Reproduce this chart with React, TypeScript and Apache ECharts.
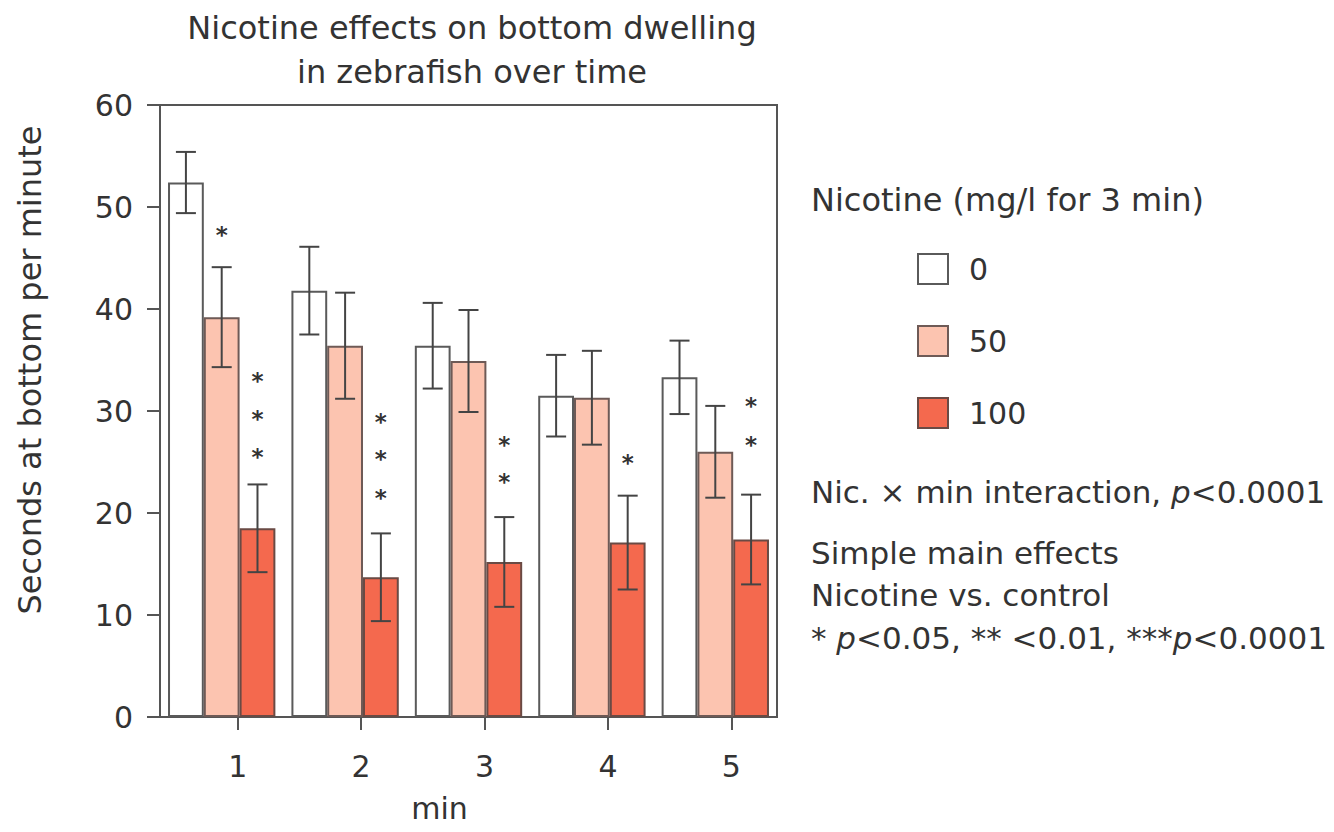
import React, { useEffect, useRef } from 'react';
import * as echarts from 'echarts';

// ---- data ----
const minutes = ['1', '2', '3', '4', '5'];
const doses = ['0', '50', '100'];
const mean0 = [52.4, 41.8, 36.4, 31.5, 33.3];
const sem0 = [3.0, 4.3, 4.2, 4.0, 3.6];
const mean50 = [39.2, 36.4, 34.9, 31.3, 26.0];
const sem50 = [4.9, 5.2, 5.0, 4.6, 4.5];
const mean100 = [18.5, 13.7, 15.2, 17.1, 17.4];
const sem100 = [4.3, 4.3, 4.4, 4.6, 4.4];
// y positions (value units) of significance asterisks above each bar
const stars50 = [[47.8], [], [], [], []];
const stars100 = [[26.1, 29.8, 33.5], [22.1, 25.9, 29.5], [23.6, 27.3], [25.5], [27.3, 31.1]];
const yMin = 0;
const yMax = 60;
const yStep = 10;

const FONT = 'DejaVu Sans';
const TXT = '#333333';
const LINE = '#555555';
const FILL = ['#ffffff', '#fcc4b0', '#f4694e'];
const BORDER = ['#5a5a5a', '#6e5a56', '#6a4a44'];
const GAP = 0.13;

export default function App() {
  const ref = useRef<HTMLDivElement>(null);
  useEffect(() => {
    if (!ref.current) return;
    const chart = echarts.init(ref.current, undefined, { renderer: 'svg' });

    const means = [mean0, mean50, mean100];
    const sems = [sem0, sem50, sem100];
    const stars = [minutes.map(() => []), stars50, stars100];

    const barSeries = doses.map((d, s) => ({
      name: d,
      type: 'bar',
      xAxisIndex: 0,
      yAxisIndex: 0,
      data: means[s],
      barGap: '0%',
      barCategoryGap: GAP * 100 + '%',
      itemStyle: { color: FILL[s], borderColor: BORDER[s], borderWidth: 2 },
      emphasis: { disabled: true },
    }));

    const errSeries = doses.map((d, s) => ({
      name: d + ' SEM',
      type: 'custom',
      xAxisIndex: 0,
      yAxisIndex: 0,
      z: 5,
      silent: true,
      clip: false,
      data: means[s].map((m, i) => [i, m, sems[s][i]]),
      encode: { x: 0, y: 1 },
      renderItem: (params: any, api: any) => {
        const i = api.value(0);
        const m = api.value(1);
        const e = api.value(2);
        const band = api.size([1, 0])[0];
        const bw = (band * (1 - GAP)) / 3;
        const cx = api.coord([i, m])[0] + (s - 1) * bw;
        const yT = api.coord([i, m + e])[1];
        const yB = api.coord([i, m - e])[1];
        const cap = 10;
        const st = { stroke: '#444', lineWidth: 2 };
        return {
          type: 'group',
          children: [
            { type: 'line', shape: { x1: cx, y1: yT, x2: cx, y2: yB }, style: st },
            { type: 'line', shape: { x1: cx - cap, y1: yT, x2: cx + cap, y2: yT }, style: st },
            { type: 'line', shape: { x1: cx - cap, y1: yB, x2: cx + cap, y2: yB }, style: st },
          ],
        };
      },
    }));

    const starSeries = doses.map((d, s) => {
      const data: number[][] = [];
      stars[s].forEach((arr: number[], i: number) => arr.forEach((v) => data.push([i, v])));
      return {
        name: d + ' sig',
        type: 'custom',
        xAxisIndex: 0,
        yAxisIndex: 0,
        z: 6,
        silent: true,
        clip: false,
        data,
        encode: { x: 0, y: 1 },
        renderItem: (params: any, api: any) => {
          const i = api.value(0);
          const v = api.value(1);
          const band = api.size([1, 0])[0];
          const bw = (band * (1 - GAP)) / 3;
          const p = api.coord([i, v]);
          return {
            type: 'text',
            x: p[0] + (s - 1) * bw,
            y: p[1] + 6,
            style: {
              text: '*',
              fontSize: 23,
              fontWeight: 'bold',
              fontFamily: FONT,
              fill: '#333',
              align: 'center',
              verticalAlign: 'middle',
            },
          };
        },
      };
    });

    const rich = {
      n: { fontSize: 31, fontFamily: FONT, fill: TXT, color: TXT },
      i: { fontSize: 31, fontFamily: FONT, fontStyle: 'italic', fill: TXT, color: TXT },
    };

    chart.setOption({
      animation: false,
      textStyle: { fontFamily: FONT, color: TXT },
      title: {
        text: 'Nicotine effects on bottom dwelling\nin zebrafish over time',
        left: 472,
        top: 6,
        padding: 0,
        textAlign: 'center',
        textStyle: { fontSize: 32, fontWeight: 'normal', color: TXT, fontFamily: FONT, lineHeight: 44 },
      },
      legend: {
        data: doses,
        orient: 'vertical',
        left: 912,
        top: 248,
        itemWidth: 30,
        itemHeight: 30,
        itemGap: 40,
        icon: 'rect',
        selectedMode: false,
        textStyle: { fontSize: 30, color: TXT, fontFamily: FONT, lineHeight: 30, padding: [0, 0, 0, 16] },
      },
      grid: {
        left: 160,
        right: 557,
        top: 105,
        bottom: 115,
        show: true,
        borderColor: LINE,
        borderWidth: 2,
        outerBoundsMode: 'none',
      },
      xAxis: [
        {
          type: 'category',
          data: minutes,
          position: 'bottom',
          axisLine: { show: true, onZero: false, lineStyle: { color: LINE, width: 2 } },
          axisTick: { show: false },
          axisLabel: { show: false },
          splitLine: { show: false },
        },
        {
          type: 'value',
          min: -0.63,
          max: 4.37,
          position: 'bottom',
          name: 'min',
          nameLocation: 'middle',
          nameGap: 76,
          nameTextStyle: { fontSize: 30, color: TXT, fontFamily: FONT, padding: [0, 58, 0, 0] },
          axisLine: { show: false, onZero: false },
          axisTick: {
            show: true,
            length: 13,
            customValues: [0, 1, 2, 3, 4],
            lineStyle: { color: LINE, width: 2 },
          },
          axisLabel: {
            show: true,
            customValues: [0, 1, 2, 3, 4],
            formatter: (v: number) => minutes[Math.round(v)] ?? '',
            fontSize: 30,
            color: TXT,
            margin: 34,
          },
          splitLine: { show: false },
        },
      ],
      yAxis: {
        type: 'value',
        min: yMin,
        max: yMax,
        interval: yStep,
        position: 'left',
        name: 'Seconds at bottom per minute',
        nameLocation: 'middle',
        nameRotate: 90,
        nameGap: 114,
        nameTextStyle: { fontSize: 32, color: TXT, fontFamily: FONT, padding: [0, 0, 0, 82] },
        axisLine: { show: true, onZero: false, lineStyle: { color: LINE, width: 2 } },
        axisTick: { show: true, length: 13, lineStyle: { color: LINE, width: 2 } },
        axisLabel: { fontSize: 30, color: TXT, margin: 27 },
        splitLine: { show: false },
      },
      graphic: [
        {
          type: 'text',
          x: 811,
          y: 200,
          style: { text: 'Nicotine (mg/l for 3 min)', fontSize: 32, fontFamily: FONT, fill: TXT, verticalAlign: 'middle' },
        },
        {
          type: 'text',
          x: 811,
          y: 492,
          style: { text: '{n|Nic. × min interaction, }{i|p}{n|<0.0001}', rich, verticalAlign: 'middle' },
        },
        {
          type: 'text',
          x: 811,
          y: 553,
          style: { text: 'Simple main effects', fontSize: 31, fontFamily: FONT, fill: TXT, verticalAlign: 'middle' },
        },
        {
          type: 'text',
          x: 811,
          y: 595,
          style: { text: 'Nicotine vs. control', fontSize: 31, fontFamily: FONT, fill: TXT, verticalAlign: 'middle' },
        },
        {
          type: 'text',
          x: 811,
          y: 638,
          style: {
            text: '{n|* }{i|p}{n|<0.05, ** <0.01, ***}{i|p}{n|<0.0001}',
            rich,
            verticalAlign: 'middle',
          },
        },
      ],
      series: [...barSeries, ...errSeries, ...starSeries],
    });
    return () => chart.dispose();
  }, []);
  return (
    <div
      ref={ref}
      style={{ position: 'absolute', left: 0, top: 0, width: 1334, height: 832, background: '#fff' }}
    />
  );
}
